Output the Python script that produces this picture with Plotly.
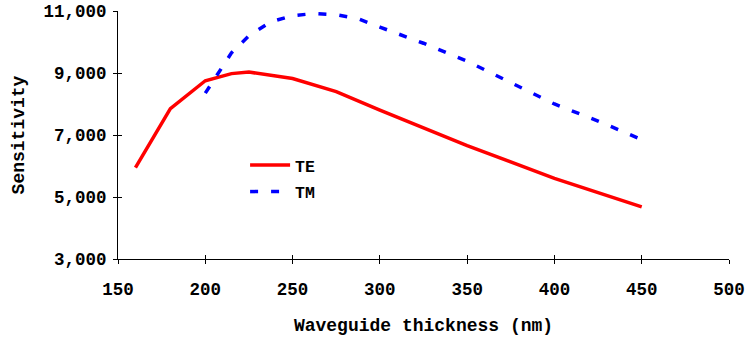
import plotly.graph_objects as go

te_x = [160, 180, 200, 215, 225, 250, 275, 300, 350, 400, 450]
te_y = [5950, 7850, 8750, 8980, 9030, 8820, 8400, 7800, 6660, 5600, 4680]

tm_x = [200, 215, 225, 237.5, 250, 262.5, 275, 287.5, 300, 325, 350, 375, 400, 425, 450]
tm_y = [8350, 9650, 10200, 10650, 10850, 10920, 10880, 10750, 10480, 9960, 9380, 8700, 8000, 7450, 6850]

x_range = [150, 500]
y_range = [3000, 11000]

FONT = "Liberation Mono, Courier New, monospace"

fig = go.Figure()
fig.add_trace(go.Scatter(x=te_x, y=te_y, mode="lines", name="TE", legendgroup="te",
                         line=dict(color="#ff0000", width=3.5)))
fig.add_trace(go.Scatter(x=tm_x, y=tm_y, mode="lines", name="TM", legendgroup="tm",
                         line=dict(color="#0000ff", width=3.5, dash="8px,13px")))
fig.add_trace(go.Scatter(x=[], y=[], xaxis="x2", yaxis="y2", showlegend=False, hoverinfo="skip"))

axis_common = dict(showgrid=False, zeroline=False, showline=True, linecolor="black", linewidth=1,
                   tickcolor="black", tickwidth=1, automargin=False)

fig.update_layout(
    width=746, height=339,
    margin=dict(l=118, r=17, t=11, b=80),
    paper_bgcolor="white", plot_bgcolor="white",
    font=dict(family=FONT, size=17.5, color="black", weight="bold"),
    xaxis=dict(range=x_range, dtick=50, tick0=150, ticks="outside", ticklen=4,
               ticklabelstandoff=10, ticklabeloverflow="allow",
               title=dict(text="Waveguide thickness (nm)", standoff=19,
                          font=dict(family=FONT, size=18, weight="bold")),
               **axis_common),
    yaxis=dict(range=y_range, dtick=2000, tick0=3000, ticks="outside", ticklen=4,
               tickformat=",d", ticklabelstandoff=3,
               title=dict(text="Sensitivity", standoff=14,
                          font=dict(family=FONT, size=18, weight="bold")),
               **axis_common),
    xaxis2=dict(range=x_range, dtick=50, tick0=150, ticks="inside", ticklen=4,
                overlaying="x", anchor="y2", side="bottom", showticklabels=False,
                **axis_common),
    yaxis2=dict(range=y_range, dtick=2000, tick0=3000, ticks="inside", ticklen=4,
                overlaying="y", anchor="x2", side="left", showticklabels=False,
                **axis_common),
    legend=dict(x=0.208, y=0.448, xanchor="left", yanchor="top",
                bgcolor="rgba(0,0,0,0)", itemwidth=40, tracegroupgap=2,
                traceorder="grouped",
                font=dict(family=FONT, size=16.5, weight="bold")),
    showlegend=True,
)

fig.write_html("out.html")
